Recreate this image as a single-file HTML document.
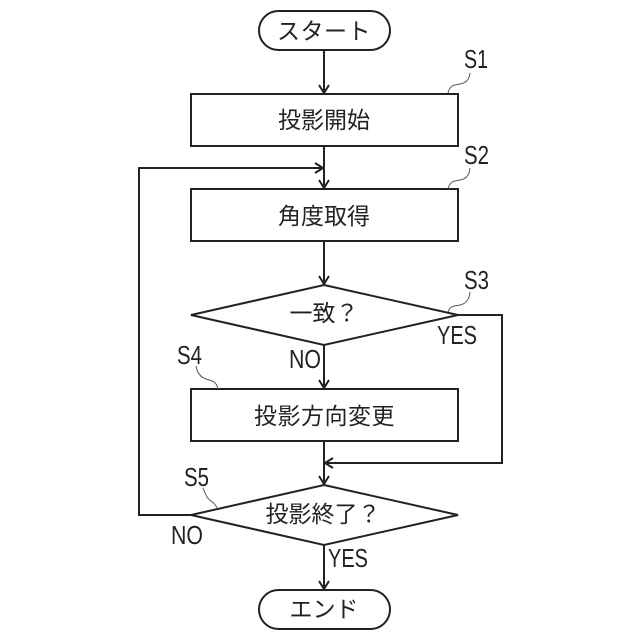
<!DOCTYPE html>
<html><head><meta charset="utf-8">
<style>html,body{margin:0;padding:0;background:#fff}svg{display:block}
text{font-family:"Liberation Sans","Noto Sans CJK JP",sans-serif;fill:#222}
.j{font-size:23px;text-anchor:middle}
.l{font-size:26px}
.s{fill:none;stroke:#222;stroke-width:2}
.t{fill:none;stroke:#555;stroke-width:1}
</style></head><body>
<svg width="640" height="640" viewBox="0 0 640 640" xmlns="http://www.w3.org/2000/svg">
<rect x="259" y="11" width="131" height="39" rx="19.5" class="s"/>
<rect x="191" y="94" width="267" height="52" class="s"/>
<rect x="191" y="189" width="267" height="52" class="s"/>
<polygon points="324,285 458,315 324,345 191,315" class="s"/>
<rect x="191" y="389" width="267" height="52" class="s"/>
<polygon points="324,485 458,515 324,545 191,515" class="s"/>
<rect x="259" y="590" width="131" height="39" rx="19.5" class="s"/>
<path class="s" d="M324 50V93M324 146V188M324 241V284M324 345V388M324 441V484M324 545V589M191 515H139V168H323M458 315H502V463H325"/>
<path class="s" d="M319 85L324 93L329 85M319 180L324 188L329 180M319 276L324 284L329 276M319 380L324 388L329 380M319 476L324 484L329 476M319 581L324 589L329 581M315 163L323 168L315 173M333 458L325 463L333 468"/>
<path class="t" d="M448 93C450 84 456 85 460 84C465 83 469 81 470 73M448 189C450 180 456 181 460 180C465 179 469 177 470 168M448 312C450 305 456 306 460 305C465 304 469 301 470 292M218 389C216 380 211 381 206 379C200 377 197 372 196 366M217 508C214 501 210 502 207 497C205 493 204 491 203 488"/>
<text class="j" x="324" y="39" letter-spacing="0.5" font-weight="400">スタート</text>
<text class="j" x="324" y="128">投影開始</text>
<text class="j" x="324" y="224">角度取得</text>
<text class="j" x="324" y="321" letter-spacing="0">一致？</text>
<text class="j" x="324.5" y="424" letter-spacing="0.5">投影方向変更</text>
<text class="j" x="323" y="522">投影終了？</text>
<text class="j" x="324" y="617">エンド</text>
<text class="l" x="464" y="68" textLength="24" lengthAdjust="spacingAndGlyphs">S1</text>
<text class="l" x="464" y="164" textLength="25" lengthAdjust="spacingAndGlyphs">S2</text>
<text class="l" x="464" y="289" textLength="25" lengthAdjust="spacingAndGlyphs">S3</text>
<text class="l" x="177" y="364" textLength="25" lengthAdjust="spacingAndGlyphs">S4</text>
<text class="l" x="184" y="486" textLength="25" lengthAdjust="spacingAndGlyphs">S5</text>
<text class="l" x="437" y="344" textLength="40" lengthAdjust="spacingAndGlyphs">YES</text>
<text class="l" x="289" y="368" textLength="32" lengthAdjust="spacingAndGlyphs">NO</text>
<text class="l" x="171" y="544" textLength="32" lengthAdjust="spacingAndGlyphs">NO</text>
<text class="l" x="328" y="567" textLength="40" lengthAdjust="spacingAndGlyphs">YES</text>
</svg>
</body></html>
